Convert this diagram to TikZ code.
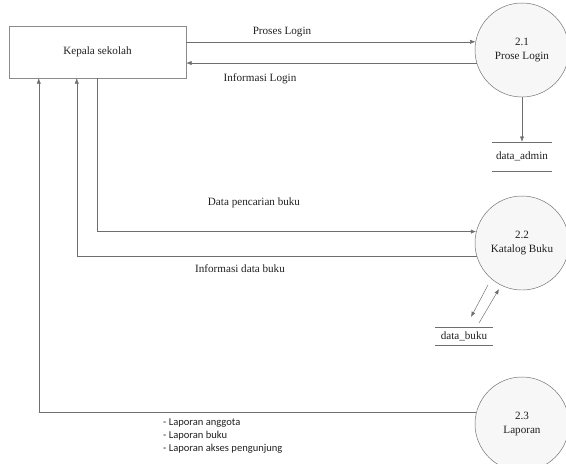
\documentclass[tikz,border=0pt]{standalone}
\usepackage{fontspec}
\setmainfont{Liberation Serif}
\newfontfamily\notefont{Carlito}
\usetikzlibrary{arrows.meta,positioning,calc,shadows}
\definecolor{ink}{HTML}{202020}
\definecolor{wire}{HTML}{6E6E6E}
\tikzset{
  >={Latex[length=4.5pt,width=3.5pt]},
  every node/.style={font=\fontsize{9.5}{11.5}\selectfont,text=ink},
  entity/.style={draw=wire!80,fill=white,minimum width=5.31cm,minimum height=1.56cm,align=center,
    drop shadow={opacity=0.25,shadow xshift=1pt,shadow yshift=-1pt}},
  proc/.style={circle,draw=wire,fill=gray!6,minimum size=2.82cm,align=center,inner sep=0pt},
  store/.style={minimum width=1.77cm,minimum height=0.87cm,inner sep=0pt},
  flow/.style={->,draw=wire,thin},
  flowlabel/.style={inner sep=1pt},
  reportlist/.style={font=\notefont\fontsize{9}{11.5}\selectfont,align=left,anchor=north west,inner sep=0pt},
}

\begin{document}
\begin{tikzpicture}[x=0.03cm,y=-0.03cm]
  \useasboundingbox (0,0) rectangle (566,463);

  \node[entity] (kepala) at (97.5,52) {Kepala sekolah};
  \node[proc] (login) at (522,50) {2.1\\Prose Login};
  \node[proc] (katalog) at (522,243) {2.2\\Katalog Buku};
  \node[proc] (laporan) at (522,424) {2.3\\Laporan};

  \node[store] (admin) at (522,156.5) {data\_admin};
  \node[store,minimum width=1.74cm,minimum height=0.54cm] (buku) at (464,336) {data\_buku};
  \foreach \s in {admin,buku} {
    \draw[wire] (\s.north west) -- (\s.north east);
    \draw[wire] (\s.south west) -- (\s.south east);
  }

  % login
  \draw[flow] (kepala.east |- login.170) -- (login.170);
  \draw[flow] (login.196) -- (kepala.east |- login.196);
  \node[flowlabel] (lbllogin) at (282,32) {Proses Login};
  \node[flowlabel] (lblinfo) at (260,79) {Informasi Login};
  \draw[flow] (login) -- (admin);

  % katalog
  \draw[flow] ($(kepala.south west)+(88,0)$) |- (katalog.166);
  \draw[flow] (katalog.196) -| ($(kepala.south west)+(68,0)$);
  \node[flowlabel] (lblcari) at (254,203) {Data pencarian buku};
  \node[flowlabel] (lblbuku) at (240,269) {Informasi data buku};
  \draw[flow] ($(buku)+(24,-51)$) -- ($(buku)+(7,-19)$);
  \draw[flow] ($(buku)+(15,-13)$) -- ($(buku)+(35,-47)$);

  % laporan
  \draw[flow] (laporan.165) -| ($(kepala.south west)+(30,0)$);
  \node[reportlist] (lbllap) at (163,418) {- Laporan anggota\\- Laporan buku\\- Laporan akses pengunjung};
\end{tikzpicture}
\end{document}
